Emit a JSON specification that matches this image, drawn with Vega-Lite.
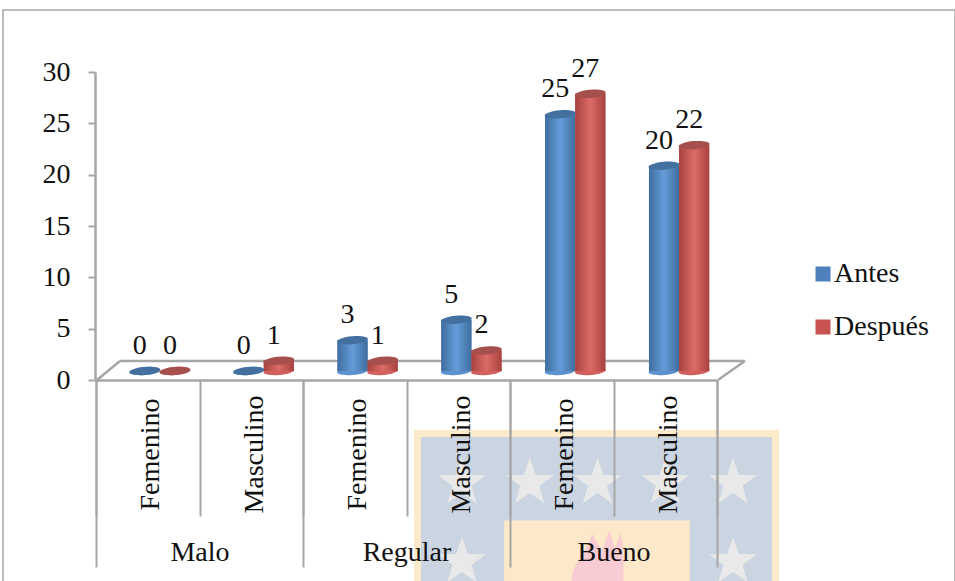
{
  "$schema": "https://vega.github.io/schema/vega-lite/v6.json",
  "width": 952,
  "height": 572,
  "padding": {"left": 3, "top": 10, "right": 0, "bottom": 0},
  "autosize": {"type": "none"},
  "background": "#ffffff",
  "view": {"stroke": "#a6a6a6", "strokeWidth": 1.5, "fill": "#ffffff"},
  "config": {"font": "Liberation Serif"},
  "datasets": {
    "evaluacion": [
      {"grupo": "Malo", "categoria": "Malo Femenino", "serie": "Antes", "valor": 0},
      {"grupo": "Malo", "categoria": "Malo Femenino", "serie": "Después", "valor": 0},
      {"grupo": "Malo", "categoria": "Malo Masculino", "serie": "Antes", "valor": 0},
      {"grupo": "Malo", "categoria": "Malo Masculino", "serie": "Después", "valor": 1},
      {"grupo": "Regular", "categoria": "Regular Femenino", "serie": "Antes", "valor": 3},
      {"grupo": "Regular", "categoria": "Regular Femenino", "serie": "Después", "valor": 1},
      {"grupo": "Regular", "categoria": "Regular Masculino", "serie": "Antes", "valor": 5},
      {"grupo": "Regular", "categoria": "Regular Masculino", "serie": "Después", "valor": 2},
      {"grupo": "Bueno", "categoria": "Bueno Femenino", "serie": "Antes", "valor": 25},
      {"grupo": "Bueno", "categoria": "Bueno Femenino", "serie": "Después", "valor": 27},
      {"grupo": "Bueno", "categoria": "Bueno Masculino", "serie": "Antes", "valor": 20},
      {"grupo": "Bueno", "categoria": "Bueno Masculino", "serie": "Después", "valor": 22}
    ],
    "estrellas": [
      {"columna": 1, "fila": 1}, {"columna": 2, "fila": 1}, {"columna": 3, "fila": 1},
      {"columna": 4, "fila": 1}, {"columna": 5, "fila": 1},
      {"columna": 1, "fila": 2}, {"columna": 5, "fila": 2}
    ],
    "vacio": [{}]
  },
  "data": {"name": "evaluacion"},
  "resolve": {"scale": {"x": "independent", "y": "independent", "xOffset": "independent", "color": "independent"}},
  "layer": [
    {
      "data": {"name": "vacio"},
      "mark": {"type": "rect", "fill": "#fdeacb"},
      "encoding": {
        "x": {"datum": 0, "type": "quantitative", "scale": {"domain": [0, 1], "range": [411, 776]}, "axis": null},
        "x2": {"datum": 1},
        "y": {"datum": 0, "type": "quantitative", "scale": {"domain": [0, 1], "range": [420, 572]}, "axis": null},
        "y2": {"datum": 1}
      }
    },
    {
      "data": {"name": "vacio"},
      "mark": {"type": "rect", "fill": "#cbd5e1"},
      "encoding": {
        "x": {"datum": 0.019, "type": "quantitative", "scale": {"domain": [0, 1], "range": [411, 776]}, "axis": null},
        "x2": {"datum": 0.981},
        "y": {"datum": 0.046, "type": "quantitative", "scale": {"domain": [0, 1], "range": [420, 572]}, "axis": null},
        "y2": {"datum": 1}
      }
    },
    {
      "data": {"name": "estrellas"},
      "mark": {
        "type": "point",
        "filled": true,
        "opacity": 1,
        "fill": "#e9e9e9",
        "size": 2500,
        "shape": "M0,-1L0.235,-0.325L0.951,-0.309L0.38,0.124L0.588,0.809L0,0.4L-0.588,0.809L-0.38,0.124L-0.951,-0.309L-0.235,-0.325Z"
      },
      "encoding": {
        "x": {"field": "columna", "type": "ordinal", "scale": {"type": "point", "range": [459, 730], "padding": 0}, "axis": null},
        "y": {"field": "fila", "type": "ordinal", "scale": {"type": "point", "range": [473, 552], "padding": 0}, "axis": null}
      }
    },
    {
      "data": {"name": "vacio"},
      "mark": {"type": "rect", "fill": "#fde9c9"},
      "encoding": {
        "x": {"datum": 0.247, "type": "quantitative", "scale": {"domain": [0, 1], "range": [411, 776]}, "axis": null},
        "x2": {"datum": 0.756},
        "y": {"datum": 0.596, "type": "quantitative", "scale": {"domain": [0, 1], "range": [420, 572]}, "axis": null},
        "y2": {"datum": 1}
      }
    },
    {
      "data": {"name": "vacio"},
      "mark": {
        "type": "point",
        "filled": true,
        "opacity": 1,
        "fill": "#f9cbd3",
        "size": 10000,
        "shape": "M-0.5,0.45C-0.5,0.05,-0.25,-0.05,-0.08,-0.54C0,-0.35,0.06,-0.3,0.12,-0.2C0.15,-0.35,0.22,-0.45,0.26,-0.6C0.3,-0.45,0.34,-0.35,0.37,-0.25C0.4,-0.35,0.45,-0.45,0.48,-0.56C0.55,-0.3,0.54,0.1,0.54,0.45Z"
      },
      "encoding": {
        "x": {"datum": 0.5, "type": "quantitative", "scale": {"domain": [0, 1], "range": [411, 776]}, "axis": null},
        "y": {"datum": 0.86, "type": "quantitative", "scale": {"domain": [0, 1], "range": [420, 572]}, "axis": null}
      }
    },
    {
      "mark": {"type": "point", "opacity": 0},
      "encoding": {
        "x": {
          "field": "categoria",
          "type": "nominal",
          "sort": null,
          "scale": {"type": "band", "range": [93, 714], "padding": 0},
          "axis": {
            "title": null,
            "orient": "bottom",
            "offset": -202,
            "zindex": 1,
            "grid": false,
            "tickBand": "extent",
            "tickSize": 136,
            "tickWidth": 2,
            "tickColor": "#a6a6a6",
            "domainColor": "#a6a6a6",
            "domainWidth": 2.5,
            "labelExpr": "split(datum.label, ' ')[1]",
            "labelAngle": -90,
            "labelAlign": "center",
            "labelBaseline": "middle",
            "labelPadding": -62,
            "labelOffset": 3,
            "labelFont": "Liberation Serif",
            "labelFontSize": 28,
            "labelColor": "#111111",
            "labelOverlap": false,
            "labelBound": false,
            "labelFlush": false
          }
        },
        "y": {
          "field": "valor",
          "type": "quantitative",
          "scale": {"domain": [0, 30], "range": [370, 62], "nice": false},
          "axis": {
            "title": null,
            "orient": "left",
            "offset": -92,
            "zindex": 1,
            "grid": false,
            "values": [0, 5, 10, 15, 20, 25, 30],
            "tickSize": 7,
            "tickWidth": 2,
            "tickColor": "#a6a6a6",
            "domainColor": "#a6a6a6",
            "domainWidth": 2.5,
            "labelPadding": 18,
            "labelFont": "Liberation Serif",
            "labelFontSize": 28,
            "labelColor": "#111111",
            "labelFlush": false,
            "labelOverlap": false,
            "labelBound": false
          }
        }
      }
    },
    {
      "mark": {"type": "point", "opacity": 0},
      "encoding": {
        "x": {
          "field": "grupo",
          "type": "nominal",
          "sort": ["Malo", "Regular", "Bueno"],
          "scale": {"type": "band", "range": [93, 714], "padding": 0},
          "axis": {
            "title": null,
            "orient": "bottom",
            "offset": -202,
            "zindex": 1,
            "grid": false,
            "domain": false,
            "tickBand": "extent",
            "tickSize": 187,
            "tickWidth": 2,
            "tickColor": "#a6a6a6",
            "labelAngle": 0,
            "labelAlign": "center",
            "labelBaseline": "middle",
            "labelPadding": -15,
            "labelFont": "Liberation Serif",
            "labelFontSize": 28,
            "labelColor": "#111111",
            "labelOverlap": false,
            "labelBound": false,
            "labelFlush": false
          }
        }
      }
    },
    {
      "data": {"name": "vacio"},
      "mark": {"type": "rule", "stroke": "#a6a6a6", "strokeWidth": 2.5},
      "encoding": {
        "x": {"datum": 0, "type": "quantitative", "scale": {"domain": [0, 6], "range": [94, 715]}, "axis": null},
        "x2": {"datum": 0.222},
        "y": {"datum": 0, "type": "quantitative", "scale": {"domain": [0, 30], "range": [370, 62]}, "axis": null},
        "y2": {"datum": 1.85}
      }
    },
    {
      "data": {"name": "vacio"},
      "mark": {"type": "rule", "stroke": "#a6a6a6", "strokeWidth": 2.5},
      "encoding": {
        "x": {"datum": 0.222, "type": "quantitative", "scale": {"domain": [0, 6], "range": [94, 715]}, "axis": null},
        "x2": {"datum": 6.26},
        "y": {"datum": 1.85, "type": "quantitative", "scale": {"domain": [0, 30], "range": [370, 62]}, "axis": null},
        "y2": {"datum": 1.85}
      }
    },
    {
      "data": {"name": "vacio"},
      "mark": {"type": "rule", "stroke": "#a6a6a6", "strokeWidth": 2.5},
      "encoding": {
        "x": {"datum": 6.26, "type": "quantitative", "scale": {"domain": [0, 6], "range": [94, 715]}, "axis": null},
        "x2": {"datum": 6},
        "y": {"datum": 1.85, "type": "quantitative", "scale": {"domain": [0, 30], "range": [370, 62]}, "axis": null},
        "y2": {"datum": 0}
      }
    },
    {
      "encoding": {
        "x": {
          "field": "categoria",
          "type": "nominal",
          "sort": null,
          "scale": {"type": "band", "range": [105, 728], "paddingInner": 0.42, "paddingOuter": 0.21},
          "axis": null
        },
        "xOffset": {"field": "serie", "type": "nominal", "sort": ["Antes", "Después"]},
        "y": {
          "field": "valor",
          "type": "quantitative",
          "scale": {"domain": [0, 30], "range": [361, 53], "nice": false},
          "axis": null
        }
      },
      "layer": [
        {
          "mark": {
            "type": "point",
            "filled": true,
            "opacity": 1,
            "size": 961,
            "angle": -5,
            "strokeWidth": 0,
            "shape": "M-1,0A1,0.26,0,1,1,1,0A1,0.26,0,1,1,-1,0Z"
          },
          "encoding": {
            "y": {"datum": 0, "type": "quantitative", "scale": {"domain": [0, 30], "range": [361, 53], "nice": false}, "axis": null},
            "fill": {
              "condition": {"test": "datum.serie === 'Antes'", "value": "#5b92cf"},
              "value": "#d1605c"
            }
          }
        },
        {
          "mark": {"type": "bar"},
          "encoding": {
            "color": {
              "field": "serie",
              "type": "nominal",
              "sort": ["Antes", "Después"],
              "scale": {"domain": ["Antes", "Después"], "range": ["#4f81bd", "#c9534f"]},
              "legend": {
                "title": null,
                "orient": "none",
                "legendX": 806,
                "legendY": 250,
                "symbolType": "square",
                "symbolSize": 225,
                "symbolStrokeWidth": 0,
                "labelFont": "Liberation Serif",
                "labelFontSize": 28,
                "labelColor": "#111111",
                "labelOffset": -3,
                "rowPadding": 25,
                "labelLimit": 200
              }
            }
          }
        },
        {
          "mark": {"type": "bar"},
          "encoding": {
            "fill": {
              "condition": {
                "test": "datum.serie === 'Antes'",
                "value": {
                  "gradient": "linear", "x1": 0, "x2": 1, "y1": 0, "y2": 0,
                  "stops": [
                    {"offset": 0, "color": "#3f6d9e"},
                    {"offset": 0.5, "color": "#659cda"},
                    {"offset": 1, "color": "#3f6d9e"}
                  ]
                }
              },
              "value": {
                "gradient": "linear", "x1": 0, "x2": 1, "y1": 0, "y2": 0,
                "stops": [
                  {"offset": 0, "color": "#a8423f"},
                  {"offset": 0.5, "color": "#dd6b67"},
                  {"offset": 1, "color": "#a8423f"}
                ]
              }
            }
          }
        },
        {
          "mark": {
            "type": "point",
            "filled": true,
            "opacity": 1,
            "size": 961,
            "angle": -5,
            "strokeWidth": 0,
            "shape": "M-1,0A1,0.26,0,1,1,1,0A1,0.26,0,1,1,-1,0Z"
          },
          "encoding": {
            "fill": {
              "condition": {"test": "datum.serie === 'Antes'", "value": "#44709f"},
              "value": "#a5504d"
            }
          }
        },
        {
          "mark": {
            "type": "text",
            "font": "Liberation Serif",
            "fontSize": 28,
            "fill": "#111111",
            "align": "center",
            "baseline": "middle",
            "dx": -5,
            "dy": -25
          },
          "encoding": {"text": {"field": "valor", "type": "quantitative"}}
        }
      ]
    }
  ]
}
